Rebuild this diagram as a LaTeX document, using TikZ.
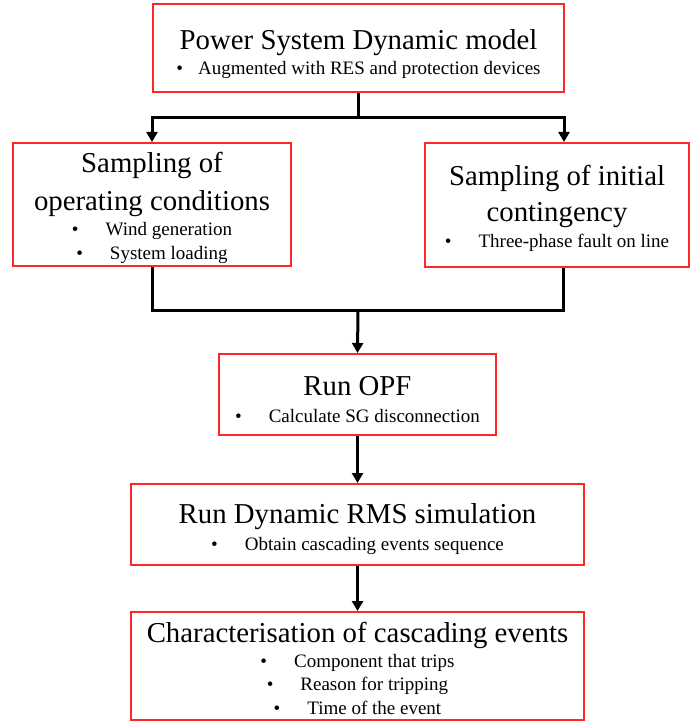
\documentclass[tikz,border=0pt]{standalone}
\usepackage{fontspec}
\setmainfont{Liberation Serif}
\usetikzlibrary{arrows.meta}
\definecolor{boxred}{RGB}{255,38,38}
\newcommand{\ttl}{\fontsize{28.8}{34.5}\selectfont}
\newcommand{\bul}{\fontsize{19}{23.5}\selectfont}
\newcommand{\itm}[2][27pt]{\textbullet\hspace{#1}#2}
\newcommand{\lift}[1]{\rule{0pt}{#1}}
\tikzset{
  box/.style={draw=boxred, line width=2pt, align=center, inner sep=0pt, font=\bul},
  link/.style={line width=3pt, black, line join=miter},
  arrowlink/.style={link, -{Triangle[length=10pt,width=11pt]}}
}
\begin{document}
\begin{tikzpicture}[x=1pt,y=-1pt]
\useasboundingbox (0,0) rectangle (690,722);
\node[box, minimum width=411pt, minimum height=88pt] (psdm) at (358.5,48)
  {{\ttl\lift{31.7pt}Power System Dynamic model}\\[1.5pt] \itm[15pt]{Augmented with RES and protection devices}};
\node[box, minimum width=278pt, minimum height=123pt] (sampOC) at (152,204.5)
  {{\ttl\lift{26.7pt}Sampling of}\\[11.5pt] {\ttl operating conditions}\\[1.5pt] \itm{Wind generation}\\ \itm{System loading}};
\node[box, minimum width=264pt, minimum height=124pt] (sampIC) at (557,205)
  {{\ttl\lift{27.7pt}Sampling of initial}\\[10pt] {\ttl contingency}\\[2.5pt] \itm{Three-phase fault on line}};
\node[box, minimum width=277pt, minimum height=81pt] (opf) at (357.5,394.5)
  {{\ttl\lift{28.7pt}Run OPF}\\[3.5pt] \itm{Calculate SG disconnection}};
\node[box, minimum width=453pt, minimum height=81pt] (rms) at (357.5,524.5)
  {{\ttl\lift{28.7pt}Run Dynamic RMS simulation}\\[3.5pt] \itm{Obtain cascading events sequence}};
\node[box, minimum width=453pt, minimum height=108pt] (chr) at (357.5,666)
  {{\ttl\lift{24.7pt}Characterisation of cascading events}\\[1pt] \itm{Component that trips}\\ \itm{Reason for tripping}\\ \itm{Time of the event}};
\coordinate (j1) at (358.5,118);
\coordinate (j2) at (358,310);
\draw[link] (psdm.south) -- (j1);
\draw[arrowlink] (j1) -| (sampOC.north);
\draw[arrowlink] (j1) -| ([xshift=7pt]sampIC.north);
\draw[link] (sampOC.south) |- (j2) -| ([xshift=6pt]sampIC.south);
\draw[arrowlink] (j2) -- (opf.north);
\draw[arrowlink] (opf.south) -- (rms.north);
\draw[arrowlink] (rms.south) -- (chr.north);
\end{tikzpicture}
\end{document}
